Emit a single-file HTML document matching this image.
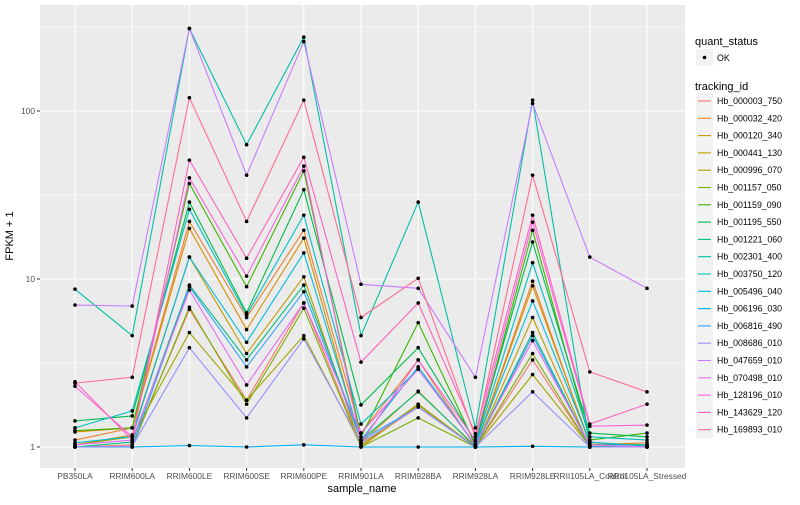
<!DOCTYPE html>
<html><head><meta charset="utf-8"><style>
body{margin:0;background:#fff;font-family:"Liberation Sans",sans-serif}
svg text{font-family:"Liberation Sans",sans-serif}
</style></head><body>
<svg id="c" width="800" height="500" xmlns="http://www.w3.org/2000/svg"></svg>
<script>
const samples=["PB350LA","RRIM600LA","RRIM600LE","RRIM600SE","RRIM600PE","RRIM901LA","RRIM928BA","RRIM928LA","RRIM928LE","RRII105LA_Control","RRII105LA_Stressed"];
const ids=["Hb_000003_750","Hb_000032_420","Hb_000120_340","Hb_000441_130","Hb_000996_070","Hb_001157_050","Hb_001159_090","Hb_001195_550","Hb_001221_060","Hb_002301_400","Hb_003750_120","Hb_005496_040","Hb_006196_030","Hb_006816_490","Hb_008686_010","Hb_047659_010","Hb_070498_010","Hb_128196_010","Hb_143629_120","Hb_169893_010"];
const colors=["#F8766D","#EA8331","#D89000","#C09B00","#A3A500","#7CAE00","#39B600","#00BB4E","#00BF7D","#00C1A3","#00BFC4","#00BAE0","#00B0F6","#35A2FF","#9590FF","#C77CFF","#E76BF3","#FA62DB","#FF62BC","#FF6C91"];
const v000003=[1,1.03,6.6,1.9,7.2,1.03,1.73,1,3.3,1,1.01];
const v000032=[1.1,1.3,22,5.9,19.5,1.21,3.3,1,9.7,1.03,1.06];
const v000120=[1.23,1.3,20,5,17.5,1.06,2.15,1,9.1,1.06,1.03];
const v000441=[1.03,1.18,13.5,3.6,10.3,1,1.78,1,5.9,1,1];
const v000996=[1.03,1.15,4.8,1.9,4.6,1.03,1.8,1,2.7,1.01,1];
const v001157=[1,1,6.8,1.8,6.7,1,1.49,1,3.6,1,1];
const v001159=[1.25,1.3,37,9,44,1.15,5.5,1.03,19.5,1.1,1.21];
const v001195=[1.43,1.53,28.7,6.3,34,1.78,3.9,1.08,16.6,1.21,1.15];
const v001221=[1,1.07,9.2,3.3,9.2,1.1,2.13,1.01,4.8,1.01,1];
const v002301=[8.7,4.6,310,63,275,4.6,28.7,1.3,116,1.03,1.03];
const v003750=[1.3,1.64,26,6.1,24,1.37,2.9,1.03,12.5,1.15,1.1];
const v005496=[1.06,1.15,13.5,4.2,14.3,1.1,3,1.03,7.4,1.07,1.01];
const v006196=[1,1,1.02,1,1.03,1,1,1,1.01,1,1];
const v006816=[1,1,9,3,8.4,1.1,1.73,1,4.6,1,1];
const v008686=[1,1.01,3.9,1.49,4.4,1.06,1.73,1,2.13,1,1];
const v047659=[7.0,6.9,310,41.5,259,9.3,8.8,2.6,111,13.5,8.8];
const v070498=[1.03,1.1,8.6,2.34,7.2,1.21,2.9,1.03,4.3,1.03,1];
const v128196=[2.3,1.15,40,10.4,47,1.06,3.3,1.1,21.8,1.33,1.35];
const v143629=[2.45,1.1,51,13.3,53,3.2,7.2,1.2,24,1.37,1.8];
const v169893=[2.4,2.6,120,22,116,5.9,10.1,1.15,41.5,2.8,2.13];
const series=[v000003,v000032,v000120,v000441,v000996,v001157,v001159,v001195,v001221,v002301,v003750,v005496,v006196,v006816,v008686,v047659,v070498,v128196,v143629,v169893];
const yTicks=[1,10,100];
const yMinor=[Math.sqrt(10),Math.sqrt(1000),Math.sqrt(100000)];

const NS="http://www.w3.org/2000/svg";
const svg=document.getElementById('c');
const P={l:40,r:685,t:5,b:468};
const xS=i=>75+i*57.2;
const yS=v=>447-168*Math.log10(v);
function mk(t,a,p){const e=document.createElementNS(NS,t);for(const k in a)e.setAttribute(k,a[k]);(p||svg).appendChild(e);return e;}

const bg=mk('rect',{x:P.l,y:P.t,width:P.r-P.l,height:P.b-P.t,fill:'#EBEBEB'});


yMinor.forEach(v=>{const g=mk('line',{x1:P.l,x2:P.r,y1:yS(v),y2:yS(v),stroke:'#fff','stroke-width':0.5});

});
yTicks.forEach(v=>{const g=mk('line',{x1:P.l,x2:P.r,y1:yS(v),y2:yS(v),stroke:'#fff','stroke-width':1.1});


mk('line',{x1:P.l-3,x2:P.l,y1:yS(v),y2:yS(v),stroke:'#333','stroke-width':1});
const t=mk('text',{x:P.l-5,y:yS(v)+3,'text-anchor':'end','font-size':8.4,fill:'#4D4D4D'});t.textContent=v;

});
samples.forEach((s,i)=>{const g=mk('line',{x1:xS(i),x2:xS(i),y1:P.t,y2:P.b,stroke:'#fff','stroke-width':1.1});


mk('line',{x1:xS(i),x2:xS(i),y1:P.b,y2:P.b+3,stroke:'#333','stroke-width':1});
const t=mk('text',{x:xS(i),y:479,'text-anchor':'middle','font-size':8.4,fill:'#4D4D4D'});t.textContent=s;

});
series.forEach((vals,k)=>{const pl=mk('polyline',{points:vals.map((v,i)=>xS(i)+','+yS(v)).join(' '),fill:'none',stroke:colors[k],'stroke-width':1.1});

});
series.forEach((vals,k)=>{vals.forEach((v,i)=>{const c=mk('circle',{cx:xS(i),cy:yS(v),r:1.8,fill:'#000'});

});});
let t=mk('text',{x:362,y:492,'text-anchor':'middle','font-size':11,fill:'#000'});t.textContent='sample_name';


t=mk('text',{x:13,y:236,'text-anchor':'middle','font-size':11,fill:'#000',transform:'rotate(-90 13 236)'});t.textContent='FPKM + 1';


t=mk('text',{x:695,y:45,'font-size':11,fill:'#000'});t.textContent='quant_status';


let kb=mk('rect',{x:696,y:49,width:17,height:17,fill:'#F2F2F2'});


mk('circle',{cx:704.5,cy:57.5,r:1.8,fill:'#000'});
t=mk('text',{x:717,y:61,'font-size':8.8,fill:'#000'});t.textContent='OK';


t=mk('text',{x:695,y:90,'font-size':11,fill:'#000'});t.textContent='tracking_id';


ids.forEach((id,k)=>{const cy=101+k*17.3;
const r=mk('rect',{x:696,y:cy-8.5,width:17,height:17,fill:'#F2F2F2'});


mk('line',{x1:698,x2:711,y1:cy,y2:cy,stroke:colors[k],'stroke-width':1.1});
const tt=mk('text',{x:717,y:cy+3,'font-size':8.8,fill:'#000'});tt.textContent=id;

});
</script>
</body></html>
